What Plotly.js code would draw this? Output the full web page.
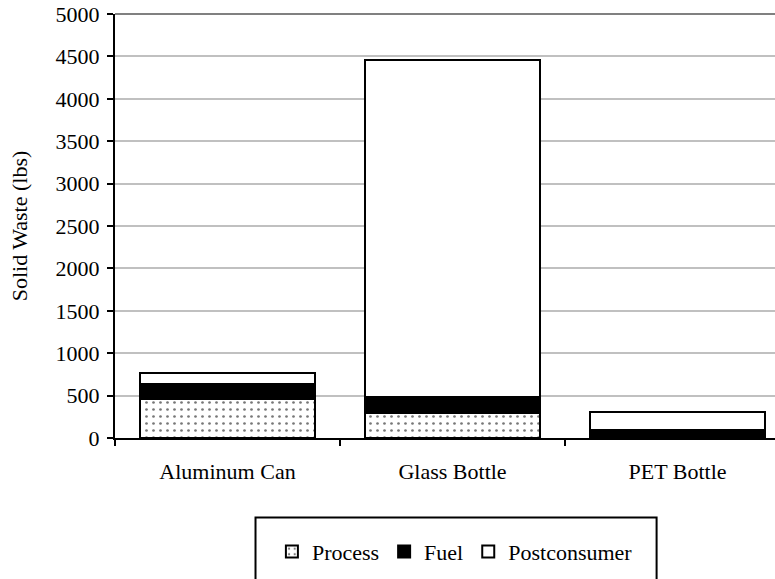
<!DOCTYPE html>
<html>
<head>
<meta charset="utf-8">
<script src="https://cdn.plot.ly/plotly-3.0.1.min.js"></script>
<style>html,body{margin:0;padding:0;background:#fff;}#chart{width:775px;height:579px;}</style>
</head>
<body>
<div id="chart"></div>
<script>
var categories = ["Aluminum Can", "Glass Bottle", "PET Bottle"];
var processVals = [460, 295, 0];
var fuelVals = [180, 185, 95];
var postconsumerVals = [125, 3980, 215];
var yTicks = [0, 500, 1000, 1500, 2000, 2500, 3000, 3500, 4000, 4500, 5000];

var font = {family: "Liberation Serif", size: 22, color: "#000"};
var outline = {color: "#000", width: 2};

var traces = [
  {type: "bar", name: "Process", x: categories, y: processVals,
   marker: {color: "#fff", line: outline, pattern: {shape: ".", fgcolor: "#777", bgcolor: "#fff", size: 7, solidity: 0.12}}},
  {type: "bar", name: "Fuel", x: categories, y: fuelVals,
   marker: {color: "#000", line: outline}},
  {type: "bar", name: "Postconsumer", x: categories, y: postconsumerVals,
   marker: {color: "#fff", line: outline}}
];

var layout = {
  width: 775, height: 579,
  margin: {l: 115, r: 0, t: 14, b: 141, pad: 0},
  paper_bgcolor: "#fff", plot_bgcolor: "#fff",
  font: font,
  barmode: "stack",
  bargap: 0.222,
  showlegend: true,
  legend: {orientation: "h", x: 0.515, xanchor: "center", y: -0.268, yanchor: "middle",
           font: font, bgcolor: "rgba(0,0,0,0)",
           itemwidth: 30, traceorder: "normal"},
  xaxis: {type: "category", range: [-0.5, 2.433], showline: true, linecolor: "#000", linewidth: 2,
          ticks: "outside", tickson: "boundaries", ticklen: 6, tickcolor: "#000", tickwidth: 2,
          ticklabelstandoff: 13,
          showgrid: false, zeroline: false, tickfont: font, fixedrange: true},
  yaxis: {range: [0, 5000], tickvals: yTicks, showline: true, linecolor: "#000", linewidth: 2,
          ticks: "outside", ticklen: 6, tickcolor: "#000", tickwidth: 2, ticklabelstandoff: 3,
          showgrid: true, gridcolor: "#c0c0c0", gridwidth: 2, zeroline: false,
          tickfont: font, title: {text: "Solid Waste (lbs)", font: font, standoff: 22}},
  shapes: [
    {type: "line", xref: "paper", yref: "paper", x0: 0, x1: 1, y0: 1, y1: 1, line: {color: "#808080", width: 2}},
    {type: "rect", xref: "paper", yref: "paper", x0: 0.2129, x1: 0.8206, y0: -0.1875, y1: -0.40, line: {color: "#000", width: 2}, fillcolor: "rgba(0,0,0,0)"}
  ]
};

Plotly.newPlot("chart", traces, layout, {displayModeBar: false, staticPlot: true});
</script>
</body>
</html>
